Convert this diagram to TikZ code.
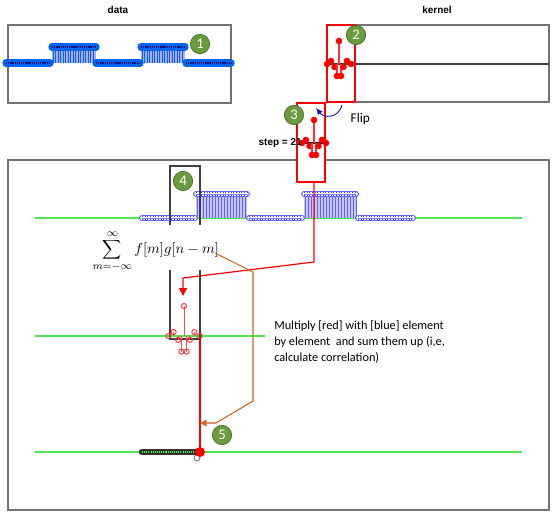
\documentclass[tikz,border=0pt]{standalone}
\usepackage{fontspec}
\setmainfont{Liberation Sans}
\newfontfamily\calib{Carlito}
\usetikzlibrary{arrows.meta}
\definecolor{badgegreen}{RGB}{106,155,62}
\definecolor{badgedark}{RGB}{70,110,40}
\definecolor{datablue}{RGB}{0,100,240}
\definecolor{datacore}{RGB}{10,20,120}
\definecolor{stemfill}{RGB}{170,170,255}
\definecolor{rowblue}{RGB}{60,60,255}
\definecolor{linegreen}{RGB}{80,230,80}
\definecolor{arrorange}{RGB}{200,100,30}
\definecolor{flipblue}{RGB}{40,20,170}
\newcommand\drawkernel[6]{%
  \foreach \dx/\dy in {-12/0,-8/-3,-4.5/3,-2/12,2/12,4.5/3,8/-3,12/0,0/-23} {
    \draw[#5] ({#1+(\dx)*#3},{#2}) -- ({#1+(\dx)*#3},{#2+(\dy)*#3});
    \path[#4] ({#1+(\dx)*#3},{#2+(\dy)*#3}) circle (#6);
  }}
\begin{document}
\begin{tikzpicture}[x=0.75pt,y=-0.75pt,
  frame/.style={draw=black!55, line width=1},
  badge/.style={circle, fill=badgegreen, draw=badgedark, line width=0.5, minimum size=14.5pt, inner sep=0pt, text=white, font=\calib\fontsize{11}{11}\selectfont},
  title/.style={font=\bfseries\fontsize{7.5}{9}\selectfont},
  gline/.style={draw=linegreen, line width=0.9},
  redbox/.style={draw=red, line width=0.9},
  blkbox/.style={draw=black!75, line width=0.9}]
\useasboundingbox (0,0) rectangle (554,517);
% titles
\node[title] (tdata) at (118,10) {data};
\node[title] (tkernel) at (437,10) {kernel};
% data box
\draw[frame] (8,25) rectangle (231,103);
\fill[stemfill] (52,47) rectangle (96,63);
\fill[stemfill] (141,47) rectangle (185,63);
\foreach \x in {53,55.5,...,95,142,144.5,...,184} \draw[datablue, line width=0.6] (\x,47) -- (\x,63);
\foreach \a/\b/\y in {6/50/63, 96/140/63, 186/231/63, 52/96/47, 141/185/47} {
  \draw[datablue, line width=5.5, line cap=round] (\a,\y) -- (\b,\y);
  \draw[datacore, line width=0.8, dash pattern=on 1pt off 0.6pt] (\a,\y) -- (\b,\y);
}
\node[badge] (b1) at (200,44) {1};
% kernel box
\draw[frame] (327,25) rectangle (549,102);
\draw[black!75, line width=0.9] (327,64) -- (549,64);
\drawkernel{339}{64}{1}{fill=red}{red!80, line width=0.8}{3.3}
\draw[redbox] (327,25) rectangle (355,102);
\node[badge] (b2) at (356,35) {2};
% big box
\draw[frame] (8,160) rectangle (549,510);
% flipped kernel
\draw[redbox, fill=white] (297,103) rectangle (325,182);
\draw[black, line width=0.9] (300,143) -- (326,143);
\drawkernel{314}{143}{1}{fill=red}{red!80, line width=0.8}{3.3}
\node[title, anchor=east, inner sep=0pt] (step) at (302,143) {step = 21};
\node[badge] (b3) at (294,115) {3};
% flip arrow
\coordinate (flipA) at (342,105);
\coordinate (flipB) at (316,108);
\draw[flipblue, line width=0.7, -{Latex[length=5pt,width=4.5pt]}] (flipA) .. controls (338,119) and (324,118) .. (flipB);
\node[font=\calib\fontsize{10}{12}\selectfont, anchor=west] (flip) at (346,119) {Flip};
% row 1
\draw[gline] (35,218) -- (522,218);
\fill[stemfill!70] (196,194) rectangle (247,218);
\fill[stemfill!70] (304,194) rectangle (356,218);
\foreach \x in {197,200,...,247,305,308,...,356} \draw[rowblue!80, line width=0.6] (\x,194) -- (\x,218);
\foreach \a/\b/\y in {142/195/218, 249/302/218, 358/413/218, 196/247/194, 304/356/194} {
  \draw[rowblue!80, line width=4.5, line cap=round] (\a,\y) -- (\b,\y);
  \draw[white, line width=2.6, line cap=round] (\a,\y) -- (\b,\y);
  \draw[rowblue, line width=0.7, dash pattern=on 0.4pt off 1.6pt] (\a,\y-1.7) -- (\b,\y-1.7);
  \draw[rowblue, line width=0.7, dash pattern=on 0.4pt off 1.6pt] (\a,\y+1.7) -- (\b,\y+1.7);
  \draw[rowblue!70, line width=0.5] (\a,\y) -- (\b,\y);
}
\draw[blkbox] (170,225) -- (170,166) -- (200,166) -- (200,225);
\node[badge] (b4) at (183,181) {4};
% formula
\node[font=\fontsize{11}{13}\selectfont] (formula) at (156,251) {$\displaystyle\sum_{m=-\infty}^{\infty} f[m]g[n-m]$};
% red connector
\coordinate (r0) at (314,182);
\coordinate (r1) at (314,262);
\coordinate (r2) at (183,278);
\coordinate (r3) at (183,296);
\draw[red, line width=0.9, -{Triangle[length=6pt,width=6pt]}] (r0) -- (r1) -- (r2) -- (r3);
% row 2
\draw[gline] (35,336) -- (265,336);
\draw[blkbox] (170,270) -- (170,339) -- (200,339) -- (200,270);
\drawkernel{184}{336}{1.3}{draw=red!80, line width=0.7}{red!70, line width=0.7}{2.6}
\node[font=\calib\fontsize{9.2}{12.3}\selectfont, anchor=north west, align=left, inner sep=0pt] (note) at (274,320) {Multiply [red] with [blue] element\\by element\ \ and sum them up (i,e,\\calculate correlation)};
% red line to result
\coordinate (s0) at (200,338);
\coordinate (s1) at (200,452);
\draw[red, line width=0.9] (s0) -- (s1);
% orange connector
\coordinate (o0) at (215,253);
\coordinate (o1) at (253,272);
\coordinate (o2) at (253,401);
\coordinate (o3) at (216,423);
\coordinate (o4) at (200,423);
\draw[arrorange, line width=0.8, -{Triangle[length=5pt,width=5pt]}] (o0) -- (o1) -- (o2) -- (o3) -- (o4);
% row 3
\draw[gline] (35,452) -- (522,452);
\draw[black!80, line width=5, line cap=round] (142,452) -- (196,452);
\draw[linegreen, line width=1.3, dash pattern=on 0.8pt off 0.8pt] (142,452) -- (196,452);
\draw[black!60, line width=0.6] (197,458) circle (3);
\fill[red] (s1) circle (5);
\node[badge] (b5) at (222,435) {5};
\end{tikzpicture}
\end{document}
